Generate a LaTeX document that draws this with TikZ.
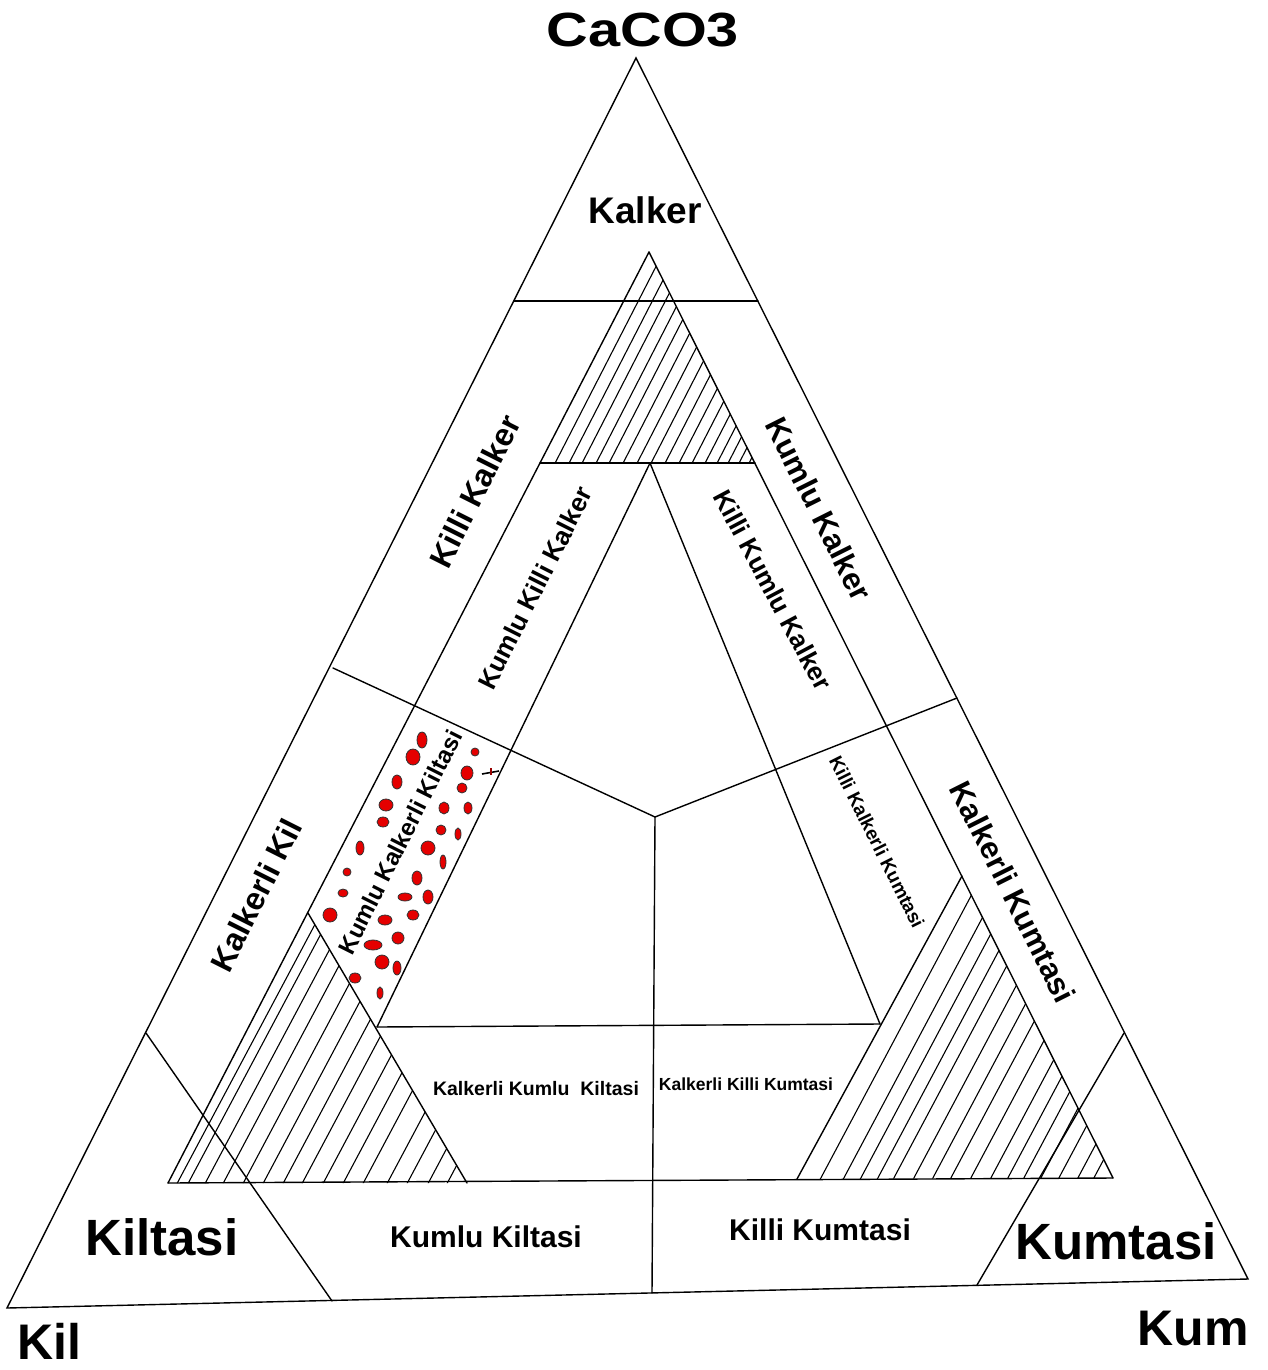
\documentclass[tikz,border=0pt]{standalone}
\usepackage{fontspec}
\setmainfont{Liberation Sans}
\newcommand{\fsz}[1]{\fontsize{#1}{#1}\selectfont}
\tikzset{
  edge/.style={line width=1.4pt, line cap=round},
  hatchline/.style={line width=1.1pt},
  grain/.style={fill=red!90!black, draw=black!80, line width=0.8pt},
  lbl/.style={font=\bfseries, inner sep=0pt},
}

\begin{document}
\begin{tikzpicture}[x=1pt,y=-1pt]
\useasboundingbox[fill=white] (0,0) rectangle (1267,1370);
% corners of the diagram
\coordinate (caco) at (636,58);
\coordinate (kil) at (7,1308);
\coordinate (kum) at (1248,1279);
% inner points
\coordinate (topapex) at (649,252);
\coordinate (inapex) at (650,463);
\coordinate (mid) at (655,817);
\coordinate (lhtop) at (308,913);
\coordinate (lhleft) at (168,1183);
\coordinate (lhright) at (467,1183);
\coordinate (rhtop) at (962,876);
\coordinate (rhleft) at (797,1179);
\coordinate (rhright) at (1113,1178);
\coordinate (inleft) at (377,1027);
\coordinate (inright) at (880,1024);

% hatching
\begin{scope}
\clip (topapex) -- (540,463) -- (755,463) -- cycle;
\foreach \x in {555,569,582,596,609,623,637,651,665,679,692,705,717,728,739,749}
  \draw[hatchline] (\x-5,473) -- ++(115,-224);
\end{scope}
\begin{scope}
\clip (lhtop) -- (lhleft) -- (lhright) -- cycle;
\foreach \x in {177,188,205,223,243,263,283,302,323,343,363,387,407,428,447}
  \draw[hatchline] (\x-5,1193) -- ++(165,-310);
\end{scope}
\begin{scope}
\clip (rhtop) -- (rhleft) -- (rhright) -- cycle;
\foreach \x in {820,843,860,877,893,913,932,950,970,990,1007,1023,1040,1058,1077,1093}
  \draw[hatchline] (\x-5,1189) -- ++(165,-310);
\end{scope}

% outer triangle and fields
\draw[edge] (caco) -- (kil) -- (kum) -- cycle;
\draw[edge] (514,301) -- (758,301);
\draw[edge] (topapex) -- (lhleft);
\draw[edge] (topapex) -- (rhright);
\draw[edge] (540,463) -- (755,463);
\draw[edge] (inapex) -- (inleft);
\draw[edge] (inapex) -- (inright);
\draw[edge] (lhtop) -- (lhright);
\draw[edge] (rhtop) -- (rhleft);
\draw[edge] (inleft) -- (inright);
\draw[edge] (lhleft) -- (rhright);
\draw[edge] (333,668) -- (mid) -- (957,698);
\draw[edge] (mid) -- (652,1293);
\draw[edge] (146,1033) -- (332,1301);
\draw[edge] (1124,1033) -- (977,1285);

% grains
\foreach \x/\y/\a/\b in {422/740/5/8, 413/757/7/8, 475/752/4/4, 467/773/6/7,
  397/782/5/7, 462/788/5/5, 386/805/7/6, 444/808/5/6, 468/808/4/6, 383/822/6/5,
  441/830/5/5, 458/834/3/6, 360/848/4/7, 428/848/7/7, 443/862/3/7, 347/872/4/4,
  417/878/5/7, 343/893/5/4, 405/897/7/4, 428/897/5/7, 330/915/7/7, 385/920/7/5,
  413/915/6/5, 398/938/6/6, 373/945/9/5, 382/962/7/7, 397/968/4/7, 355/978/6/5,
  380/993/3/6}
  \filldraw[grain] (\x,\y) ellipse ({\a} and {\b});
\draw[line width=1.6pt] (482,774) -- (499,771);
\draw[line width=1.4pt, red!60!black] (491,768) -- (491,775);

% labels
\node[lbl] (lcaco) at (643,30) [xscale=1.2] {\fsz{48}CaCO3};
\node[lbl] (lkalker) at (645,210) {\fsz{37}Kalker};
\node[lbl, rotate=63.3] (lkillikalker) at (475,491) {\fsz{32}Killi Kalker};
\node[lbl, rotate=-63.4] (lkumlukalker) at (819,509) {\fsz{31}Kumlu Kalker};
\node[lbl, rotate=63.3] (lkkk) at (535,588) {\fsz{26}Kumlu Killi Kalker};
\node[lbl, rotate=-62] (lkkk2) at (773,590) {\fsz{26}Killi Kumlu Kalker};
\node[lbl, rotate=63.3] (lkalkerlikil) at (256,895) {\fsz{32}Kalkerli Kil};
\node[lbl, rotate=63.3] (lkkkil) at (400,842) {\fsz{24}Kumlu Kalkerli Kiltasi};
\node[lbl, rotate=-63.4] (lkkkum) at (877,842) {\fsz{19}Killi Kalkerli Kumtasi};
\node[lbl, rotate=-63.4] (lkalkum) at (1013,892) {\fsz{31}Kalkerli Kumtasi};
\node[lbl] (lkkkil2) at (536,1089) {\fsz{19.5}Kalkerli Kumlu\ \ Kiltasi};
\node[lbl] (lkkkum2) at (746,1084) {\fsz{17.5}Kalkerli Killi Kumtasi};
\node[lbl] (lkumlukiltasi) at (486,1237) {\fsz{30}Kumlu Kiltasi};
\node[lbl] (lkillikumtasi) at (820,1230) {\fsz{30}Killi Kumtasi};
\node[lbl] (lkiltasi) at (162,1237) {\fsz{51}Kiltasi};
\node[lbl] (lkumtasi) at (1116,1241) {\fsz{51}Kumtasi};
\node[lbl] (lkil) at (49,1341) {\fsz{50}Kil};
\node[lbl] (lkum) at (1193,1329) {\fsz{50}Kum};
\end{tikzpicture}
\end{document}
